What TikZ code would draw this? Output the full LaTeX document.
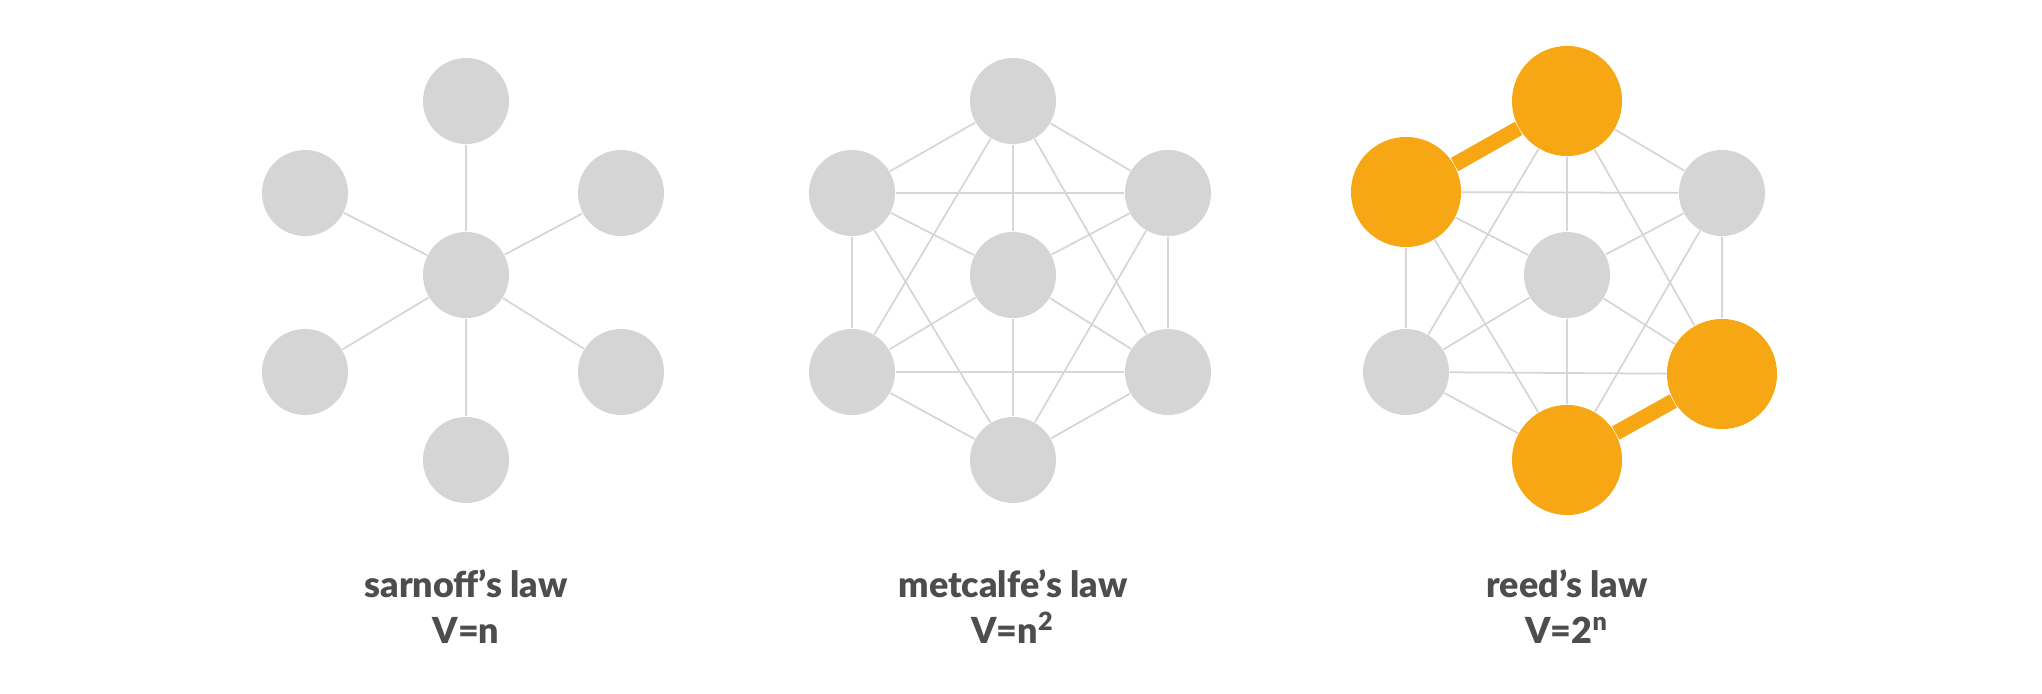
\documentclass[tikz,border=0pt]{standalone}
\usepackage{fontspec}
\setmainfont{Lato}
\newfontfamily\lawfont{Lato Black}
\usetikzlibrary{backgrounds}
\definecolor{nodegray}{HTML}{D5D5D5}
\definecolor{edgegray}{HTML}{D6D6D6}
\definecolor{laworange}{HTML}{F6A713}
\definecolor{labelgray}{HTML}{4D4D4D}
\begin{document}
\begin{tikzpicture}[x=0.01cm,y=-0.01cm,
  peer/.style={circle,fill=nodegray,minimum size=0.86cm,inner sep=0pt},
  hot/.style={circle,fill=laworange,minimum size=1.1cm,inner sep=0pt},
  link/.style={draw=edgegray,line width=0.5pt},
  hotlink/.style={draw=laworange,line width=4.3pt},
  lawname/.style={anchor=base,text=labelgray,font=\fontsize{10.2}{12}\selectfont\lawfont}]
  \useasboundingbox (0,0) rectangle (2042,694);
  \def\xsar{466}
  \def\xmet{1013}
  \def\xreed{1567}
  % sarnoff: star
  \foreach \p/\dx/\dy in {c/0/275,t/0/101,ur/155/193,lr/155/372,b/0/460,ll/-161/372,ul/-161/193}
    \node[peer] (s-\p) at (\xsar+\dx,\dy) {};
  \begin{pgfonlayer}{background}
    \foreach \p in {t,ur,lr,b,ll,ul}
      \draw[link] (s-c) -- (s-\p);
  \end{pgfonlayer}
  \node[lawname] (s-name) at (\xsar,597) {sarnoff’s law};
  \node[lawname] (s-rule) at (\xsar,643) {V=n};
  %
  % metcalfe: every pair
  \foreach \p/\dx/\dy in {c/0/275,t/0/101,ur/155/193,lr/155/372,b/0/460,ll/-161/372,ul/-161/193}
    \node[peer] (m-\p) at (\xmet+\dx,\dy) {};
  \begin{pgfonlayer}{background}
    \foreach \p in {t,ur,lr,b,ll,ul}
      \draw[link] (m-c) -- (m-\p);
    % opposite pairs run through the centre
    \foreach \a [count=\i] in {t,ur,lr,b,ll,ul}
      \foreach \b [count=\j] in {t,ur,lr,b,ll,ul}
        {\ifnum\j>\i \ifnum\numexpr\j-\i\relax=3 \else \draw[link] (m-\a) -- (m-\b); \fi\fi}
  \end{pgfonlayer}
  \node[lawname] (m-name) at (\xmet,597) {metcalfe’s law};
  \node[lawname] (m-rule) at (\xmet,643) {V=n\textsuperscript{2}};
  %
  % reed: every pair, two groups in orange
  \foreach \p/\dx/\dy in {c/0/275,ur/155/193,ll/-161/372}
    \node[peer] (r-\p) at (\xreed+\dx,\dy) {};
  \foreach \p/\dx/\dy in {t/0/101,lr/155/374,b/0/460,ul/-161/192}
    \node[hot] (r-\p) at (\xreed+\dx,\dy) {};
  \begin{pgfonlayer}{background}
    \foreach \p in {t,ur,lr,b,ll,ul}
      \draw[link] (r-c) -- (r-\p);
    \foreach \a [count=\i] in {t,ur,lr,b,ll,ul}
      \foreach \b [count=\j] in {t,ur,lr,b,ll,ul}
        {\ifnum\j>\i \ifnum\numexpr\j-\i\relax=3 \else \draw[link] (r-\a) -- (r-\b); \fi\fi}
    \draw[hotlink] (r-t) -- (r-ul);
    \draw[hotlink] (r-lr) -- (r-b);
  \end{pgfonlayer}
  \node[lawname] (r-name) at (\xreed,597) {reed’s law};
  \node[lawname] (r-rule) at (\xreed,643) {V=2\textsuperscript{n}};
\end{tikzpicture}
\end{document}
